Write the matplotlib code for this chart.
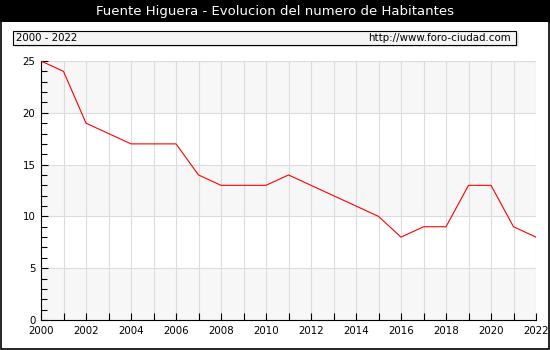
import matplotlib
matplotlib.use("Agg")
from matplotlib import pyplot as plt
from matplotlib.patches import Rectangle

years = list(range(2000, 2023))
habitantes = [25, 24, 19, 18, 17, 17, 17, 14, 13, 13, 13, 14, 13, 12, 11, 10, 8, 9, 9, 13, 13, 9, 8]
x_ticks = list(range(2000, 2023, 2))
y_ticks = [0, 5, 10, 15, 20, 25]

fig = plt.figure(figsize=(5.5, 3.5), dpi=100)
fig.patch.set_facecolor('white')

# black title bar and outer frame
fig.patches.append(Rectangle((0, 1 - 22 / 350), 1, 22 / 350, transform=fig.transFigure,
                             facecolor='black', edgecolor='none', zorder=0))
fig.patches.append(Rectangle((0.5 / 550, 1.5 / 350), 548.5 / 550, 346 / 350, transform=fig.transFigure,
                             facecolor='none', edgecolor='black', linewidth=1.2, zorder=5))
fig.text(0.5, 1 - 11 / 350, "Fuente Higuera - Evolucion del numero de Habitantes",
         color='white', ha='center', va='center', fontsize=9.5)

# subtitle box with shadow
fig.patches.append(Rectangle((15 / 550, 1 - 47 / 350), 504 / 550, 14 / 350, transform=fig.transFigure,
                             facecolor='#e4e4e4', edgecolor='none', zorder=1))
fig.patches.append(Rectangle((13 / 550, 1 - 45 / 350), 503 / 550, 14 / 350, transform=fig.transFigure,
                             facecolor='#f4f4f4', edgecolor='black', linewidth=0.8, zorder=2))
fig.text(16 / 550, 1 - 38 / 350, "2000 - 2022", ha='left', va='center', fontsize=7.4, zorder=3)
fig.text(511 / 550, 1 - 38 / 350, "http://www.foro-ciudad.com", ha='right', va='center', fontsize=7.4, zorder=3)

ax = fig.add_axes([41 / 550, 30 / 350, 495 / 550, 259 / 350])
ax.set_xlim(2000, 2022)
ax.set_ylim(0, 25)

# alternating horizontal bands
for lo in range(0, 25, 5):
    if (lo // 5) % 2 == 0:
        ax.axhspan(lo, lo + 5, color='#f7f7f7', zorder=0, linewidth=0)

for yr in years:
    ax.axvline(yr, color='#dcdcdc', linewidth=0.8, zorder=1)
for v in y_ticks:
    ax.axhline(v, color='#dcdcdc', linewidth=0.8, zorder=1)

ax.plot(years, habitantes, color='red', linewidth=0.8, zorder=3)

for side in ['top', 'right']:
    ax.spines[side].set_visible(False)
ax.spines['left'].set_linewidth(0.8)
ax.spines['bottom'].set_linewidth(0.8)

ax.set_xticks(x_ticks)
ax.set_xticks(years, minor=True)
ax.set_yticks(y_ticks)
ax.set_yticks(range(0, 26), minor=True)
ax.tick_params(axis='both', which='both', direction='in', labelsize=7.4, width=0.8)
ax.tick_params(axis='x', which='both', length=5, pad=4)
ax.tick_params(axis='y', which='major', length=5, pad=4)
ax.tick_params(axis='y', which='minor', length=4)

fig.savefig('out.png', dpi=100)
